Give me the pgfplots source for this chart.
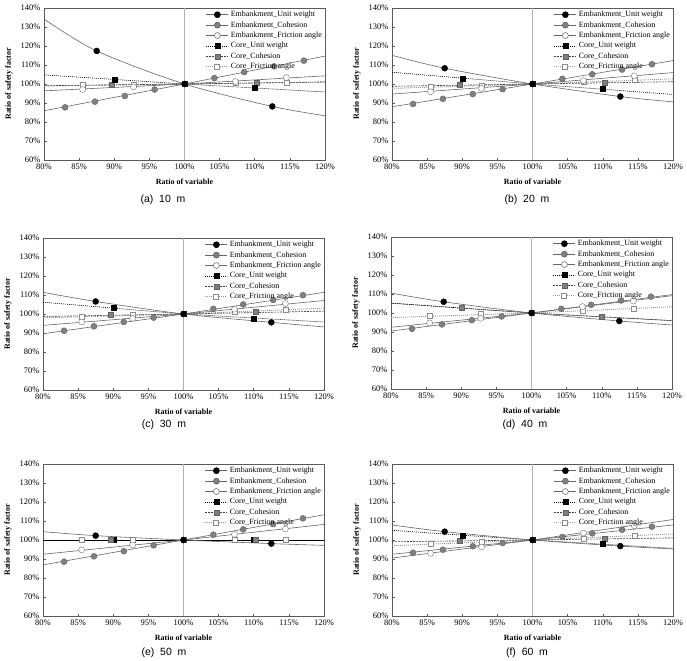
\documentclass[border=0pt]{standalone}
\usepackage{fontspec}
\setmainfont{Liberation Serif}
\newfontfamily\capfont{Liberation Sans}
\usepackage{pgfplots}
\pgfplotsset{compat=1.18}

\pgfplotsset{
  embline/.style={draw=black!60, line width=0.6bp},
  cuwline/.style={draw=black, line width=0.6bp, dash pattern=on 1bp off 1bp},
  ccohline/.style={draw=black!75, line width=0.6bp, dash pattern=on 2bp off 1bp},
  cfriline/.style={draw=black!40, line width=0.9bp, dash pattern=on 1bp off 1bp},
  euwm/.style={mark=*, mark size=3bp, mark options={solid, fill=black, draw=black}},
  ecohm/.style={mark=*, mark size=3bp, mark options={solid, fill=black!50, draw=black!62}},
  efrim/.style={mark=*, mark size=3bp, mark options={solid, fill=white, draw=black!55}},
  cuwm/.style={mark=square*, mark size=2.5bp, mark options={solid, fill=black, draw=black}},
  ccohm/.style={mark=square*, mark size=2.5bp, mark options={solid, fill=black!50, draw=black!62}},
  cfrim/.style={mark=square*, mark size=2.5bp, mark options={solid, fill=white, draw=black!45}},
  panel/.style={
    scale only axis, width=281bp, height=152bp,
    anchor=south west,
    xmin=80, xmax=120, ymin=60, ymax=140,
    xtick={80,85,...,120}, ytick={60,70,...,140},
    /pgf/number format/assume math mode=true,
    xticklabel={\pgfmathprintnumber{\tick}\%},
    yticklabel={\pgfmathprintnumber{\tick}\%},
    tick label style={font=\fontsize{8.5}{9}\selectfont, black},
    tick align=inside, xtick pos=left, ytick pos=left,
    major tick length=2.5bp,
    axis line style={black!65, line width=0.5bp},
    tick style={black!65, line width=0.5bp},
    xlabel={Ratio of variable}, ylabel={Ratio of safety factor},
    label style={font=\bfseries\fontsize{8}{9}\selectfont},
    xlabel style={at={(axis description cs:0.5,-0.146)}, anchor=center},
    ylabel style={at={(axis description cs:-0.125,0.5)}, anchor=center},
    extra x ticks={100}, extra x tick labels={},
    extra x tick style={grid=major, major grid style={black!30, line width=0.6bp}, major tick length=0pt},
    legend image code/.code={%
      \draw[mark repeat=2, mark phase=2, #1]
        plot coordinates {(0bp,0bp) (11bp,0bp) (22bp,0bp)};},
    legend style={at={(1,1)}, anchor=north east, draw=none, fill=none,
      font=\fontsize{8}{8}\selectfont, row sep=-0.6bp, inner sep=1bp,
      cells={anchor=west}},
    legend cell align=left,
  }
}

% the six legend entries shared by every panel
\newcommand\seriesentries{%
  \addlegendimage{embline, euwm}\addlegendentry{Embankment\_Unit weight}
  \addlegendimage{embline, ecohm}\addlegendentry{Embankment\_Cohesion}
  \addlegendimage{embline, efrim}\addlegendentry{Embankment\_Friction angle}
  \addlegendimage{cuwline, cuwm}\addlegendentry{Core\_Unit weight}
  \addlegendimage{ccohline, ccohm}\addlegendentry{Core\_Cohesion}
  \addlegendimage{cfriline, cfrim}\addlegendentry{Core\_Friction angle}
}

\begin{document}
\begin{tikzpicture}
\path[use as bounding box] (0,0) rectangle (687bp,-661bp);

% ---------- (a) 10 m ----------
\begin{axis}[panel, at={(44bp,-160bp)}]
\seriesentries
\addplot[cfriline, forget plot] coordinates {(80,99.0)(100,100)(120,101.0)};
\addplot[ccohline, forget plot] coordinates {(80,99.1)(100,100)(120,101.1)};
\addplot[cuwline, forget plot] coordinates {(80,104.8)(100,100)(120,95.8)};
\addplot[embline, forget plot] coordinates {(80,96.4)(100,100)(120,104.3)};
\addplot[embline, forget plot] coordinates {(80,85.9)(100,100)(120,114.7)};
\addplot[embline, smooth, forget plot] coordinates {(80,134.2)(87.5,117.4)(100,100)(112.5,88.2)(120,83.3)};
\addplot[only marks, cfrim, forget plot] coordinates {(85.5,99.4)(92.75,99.6)(100,100)(107.25,100.6)(114.5,100.9)};
\addplot[only marks, ccohm, forget plot] coordinates {(89.7,99.5)(100,100)(110.3,100.7)};
\addplot[only marks, cuwm, forget plot] coordinates {(90,102.4)(100,100)(110,98.0)};
\addplot[only marks, efrim, forget plot] coordinates {(85.5,97.1)(92.75,98.5)(100,100)(107.25,101.3)(114.5,103.4)};
\addplot[only marks, ecohm, forget plot] coordinates {(83,87.7)(87.25,90.7)(91.5,93.7)(95.75,97.1)(100,100)(104.25,103.1)(108.5,106.3)(112.75,109.3)(117,112.3)};
\addplot[only marks, euwm, forget plot] coordinates {(87.5,117.4)(100,100)(112.5,88.2)};
\end{axis}
\node[font=\capfont\fontsize{10.5}{12}\selectfont] at (163bp,-200bp) {(a)\ \ 10\ \ m};

% ---------- (b) 20 m ----------
\begin{axis}[panel, at={(392bp,-160bp)}]
\seriesentries
\addplot[cfriline, forget plot] coordinates {(80,97.7)(100,100)(120,102.7)};
\addplot[ccohline, forget plot] coordinates {(80,98.8)(100,100)(120,101.2)};
\addplot[cuwline, forget plot] coordinates {(80,106.2)(100,100)(120,94.5)};
\addplot[embline, forget plot] coordinates {(80,94.7)(100,100)(120,106.0)};
\addplot[embline, forget plot] coordinates {(80,88.0)(100,100)(120,112.3)};
\addplot[embline, smooth, forget plot] coordinates {(80,115.1)(87.5,108.3)(100,100)(112.5,93.4)(120,90.6)};
\addplot[only marks, cfrim, forget plot] coordinates {(85.5,98.4)(92.75,99.3)(100,100)(107.25,101.4)(114.5,102.1)};
\addplot[only marks, ccohm, forget plot] coordinates {(89.7,99.5)(100,100)(110.3,100.5)};
\addplot[only marks, cuwm, forget plot] coordinates {(90,103.0)(100,100)(110,97.3)};
\addplot[only marks, efrim, forget plot] coordinates {(85.5,95.9)(92.75,97.7)(100,100)(107.25,101.8)(114.5,104.3)};
\addplot[only marks, ecohm, forget plot] coordinates {(83,89.5)(87.25,92.2)(91.5,94.7)(95.75,97.3)(100,100)(104.25,102.7)(108.5,105.1)(112.75,107.6)(117,110.4)};
\addplot[only marks, euwm, forget plot] coordinates {(87.5,108.3)(100,100)(112.5,93.4)};
\end{axis}
\node[font=\capfont\fontsize{10.5}{12}\selectfont] at (527bp,-200bp) {(b)\ \ 20\ \ m};

% ---------- (c) 30 m ----------
\begin{axis}[panel, at={(43bp,-390bp)}]
\seriesentries
\addplot[cfriline, forget plot] coordinates {(80,98.0)(100,100)(120,103.1)};
\addplot[ccohline, forget plot] coordinates {(80,98.7)(100,100)(120,101.5)};
\addplot[cuwline, forget plot] coordinates {(80,106.2)(100,100)(120,95.8)};
\addplot[embline, forget plot] coordinates {(80,94.0)(100,100)(120,107.1)};
\addplot[embline, forget plot] coordinates {(80,89.6)(100,100)(120,111.4)};
\addplot[embline, smooth, forget plot] coordinates {(80,111.4)(87.5,106.6)(100,100)(112.5,95.6)(120,93.2)};
\addplot[only marks, cfrim, forget plot] coordinates {(85.5,98.7)(92.75,99.7)(100,100)(107.25,101.1)(114.5,102.3)};
\addplot[only marks, ccohm, forget plot] coordinates {(89.7,99.7)(100,100)(110.3,101.1)};
\addplot[only marks, cuwm, forget plot] coordinates {(90,103.2)(100,100)(110,97.6)};
\addplot[only marks, efrim, forget plot] coordinates {(85.5,95.8)(92.75,97.7)(100,100)(107.25,102.5)(114.5,105.5)};
\addplot[only marks, ecohm, forget plot] coordinates {(83,91.2)(87.25,93.5)(91.5,95.8)(95.75,98.1)(100,100)(104.25,102.7)(108.5,105.0)(112.75,107.4)(117,109.9)};
\addplot[only marks, euwm, forget plot] coordinates {(87.5,106.6)(100,100)(112.5,95.6)};
\end{axis}
\node[font=\capfont\fontsize{10.5}{12}\selectfont] at (164bp,-425bp) {(c)\ \ 30\ \ m};

% ---------- (d) 40 m ----------
\begin{axis}[panel, at={(391bp,-389bp)}]
\seriesentries
\addplot[cfriline, forget plot] coordinates {(80,97.6)(100,100)(120,103.3)};
\addplot[cuwline, forget plot] coordinates {(80,105.2)(100,100)(120,96.0)};
\addplot[ccohline, forget plot] coordinates {(80,105.2)(100,100)(120,96.0)};
\addplot[embline, forget plot] coordinates {(80,92.5)(100,100)(120,109.1)};
\addplot[embline, forget plot] coordinates {(80,90.5)(100,100)(120,109.7)};
\addplot[embline, smooth, forget plot] coordinates {(80,110.5)(87.5,105.9)(100,100)(112.5,95.8)(120,93.7)};
\addplot[only marks, cfrim, forget plot] coordinates {(85.5,98.5)(92.75,99.6)(100,100)(107.25,101.0)(114.5,102.2)};
\addplot[only marks, cuwm, forget plot] coordinates {(90,102.6)(100,100)(110,98.0)};
\addplot[only marks, ccohm, forget plot] coordinates {(90,102.6)(100,100)(110,98.0)};
\addplot[only marks, efrim, forget plot] coordinates {(85.5,94.8)(92.75,97.2)(100,100)(107.25,103.4)(114.5,106.3)};
\addplot[only marks, ecohm, forget plot] coordinates {(83,91.7)(87.25,94.0)(91.5,96.2)(95.75,98.2)(100,100)(104.25,102.2)(108.5,104.3)(112.75,106.6)(117,108.6)};
\addplot[only marks, euwm, forget plot] coordinates {(87.5,105.9)(100,100)(112.5,95.8)};
\end{axis}
\node[font=\capfont\fontsize{10.5}{12}\selectfont] at (525bp,-425bp) {(d)\ \ 40\ \ m};

% ---------- (e) 50 m ----------
\begin{axis}[panel, at={(43bp,-616bp)}]
\seriesentries
\addplot[cfriline, forget plot] coordinates {(80,100)(100,100)(120,100)};
\addplot[ccohline, forget plot] coordinates {(80,100)(100,100)(120,100)};
\addplot[cuwline, forget plot] coordinates {(80,100)(100,100)(120,100)};
\addplot[draw=black, line width=0.6bp, forget plot] coordinates {(80,100)(120,100)};
\addplot[embline, forget plot] coordinates {(80,92.5)(100,100)(120,108.2)};
\addplot[embline, forget plot] coordinates {(80,86.9)(100,100)(120,113.3)};
\addplot[embline, smooth, forget plot] coordinates {(80,104.4)(87.5,102.3)(100,100)(112.5,98.1)(120,97.2)};
\addplot[only marks, cfrim, forget plot] coordinates {(85.5,100)(92.75,100)(100,100)(107.25,100)(114.5,100)};
\addplot[only marks, cuwm, forget plot] coordinates {(90,100)(100,100)(110,100)};
\addplot[only marks, ccohm, forget plot] coordinates {(89.7,100)(100,100)(110.3,100)};
\addplot[only marks, efrim, forget plot] coordinates {(85.5,94.8)(92.75,97.4)(100,100)(107.25,103.0)(114.5,105.8)};
\addplot[only marks, ecohm, forget plot] coordinates {(83,88.6)(87.25,91.4)(91.5,94.1)(95.75,97.2)(100,100)(104.25,102.8)(108.5,105.6)(112.75,108.4)(117,111.4)};
\addplot[only marks, euwm, forget plot] coordinates {(87.5,102.3)(100,100)(112.5,98.1)};
\end{axis}
\node[font=\capfont\fontsize{10.5}{12}\selectfont] at (164bp,-653bp) {(e)\ \ 50\ \ m};

% ---------- (f) 60 m ----------
\begin{axis}[panel, at={(392bp,-616bp)}]
\seriesentries
\addplot[cfriline, forget plot] coordinates {(80,97.0)(100,100)(120,103.2)};
\addplot[ccohline, forget plot] coordinates {(80,99.1)(100,100)(120,101.1)};
\addplot[cuwline, forget plot] coordinates {(80,105.1)(100,100)(120,95.6)};
\addplot[embline, forget plot] coordinates {(80,90.5)(100,100)(120,110.8)};
\addplot[embline, forget plot] coordinates {(80,92.5)(100,100)(120,107.9)};
\addplot[embline, smooth, forget plot] coordinates {(80,107.9)(87.5,104.4)(100,100)(112.5,96.8)(120,95.3)};
\addplot[only marks, cfrim, forget plot] coordinates {(85.5,97.9)(92.75,99.1)(100,100)(107.25,100.9)(114.5,102.1)};
\addplot[only marks, ccohm, forget plot] coordinates {(89.7,99.6)(100,100)(110.3,100.7)};
\addplot[only marks, cuwm, forget plot] coordinates {(90,102.5)(100,100)(110,97.9)};
\addplot[only marks, efrim, forget plot] coordinates {(85.5,93.0)(92.75,96.3)(100,100)(107.25,103.7)(114.5,107.5)};
\addplot[only marks, ecohm, forget plot] coordinates {(83,93.3)(87.25,94.9)(91.5,96.7)(95.75,98.4)(100,100)(104.25,101.6)(108.5,103.5)(112.75,105.4)(117,107.0)};
\addplot[only marks, euwm, forget plot] coordinates {(87.5,104.4)(100,100)(112.5,96.8)};
\end{axis}
\node[font=\capfont\fontsize{10.5}{12}\selectfont] at (527bp,-653bp) {(f)\ \ 60\ \ m};

\end{tikzpicture}
\end{document}
